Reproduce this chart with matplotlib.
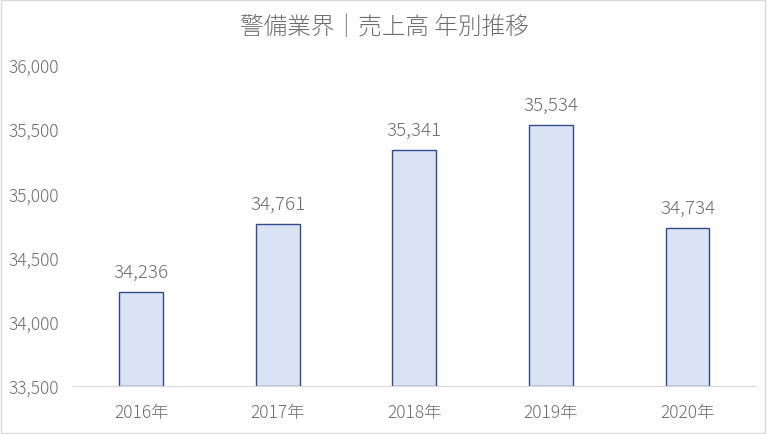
import matplotlib
matplotlib.use("Agg")
from matplotlib import pyplot as plt
from matplotlib.patches import Rectangle

plt.rcParams['font.family'] = ['Noto Sans CJK JP', 'DejaVu Sans']

# data
years = ['2016年', '2017年', '2018年', '2019年', '2020年']
sales = [34236, 34761, 35341, 35534, 34734]
y_ticks = [33500, 34000, 34500, 35000, 35500, 36000]

grey = '#6E6E6E'

fig = plt.figure(figsize=(7.68, 4.35), dpi=100)
ax = fig.add_axes([0.095, 0.110, 0.889, 0.738])

x = range(len(years))
bars = ax.bar(x, [v - y_ticks[0] for v in sales], bottom=y_ticks[0], width=0.32,
              color='#DAE3F3', edgecolor='#2F4B8A', linewidth=1.0, zorder=2)

for xi, v in zip(x, sales):
    ax.text(xi, v + 85, f'{v:,}', ha='center', va='bottom', fontsize=13.5,
            color=grey, fontweight='light')

ax.set_xlim(-0.5, len(years) - 0.5)
ax.set_ylim(y_ticks[0], y_ticks[-1])
ax.set_yticks(y_ticks)
ax.set_yticklabels([f'{t:,}' for t in y_ticks], fontweight='light')
ax.set_xticks(list(x))
ax.set_xticklabels(years, fontweight='light')
ax.tick_params(axis='both', length=0, labelsize=12.5, labelcolor=grey)
ax.tick_params(axis='x', pad=12)
ax.tick_params(axis='y', pad=10)

for side in ['top', 'right', 'left']:
    ax.spines[side].set_visible(False)
ax.spines['bottom'].set_color('#D9D9D9')

fig.text(0.5, 0.937, '警備業界｜売上高 年別推移', ha='center', va='center', fontsize=17,
         color=grey, fontweight='light')

# light frame around the chart
fig.patches.append(Rectangle((0.001, 0.003), 0.995, 0.994, transform=fig.transFigure,
                             fill=False, edgecolor='#D9D9D9', linewidth=1.0))

fig.savefig('out.png', dpi=100)
